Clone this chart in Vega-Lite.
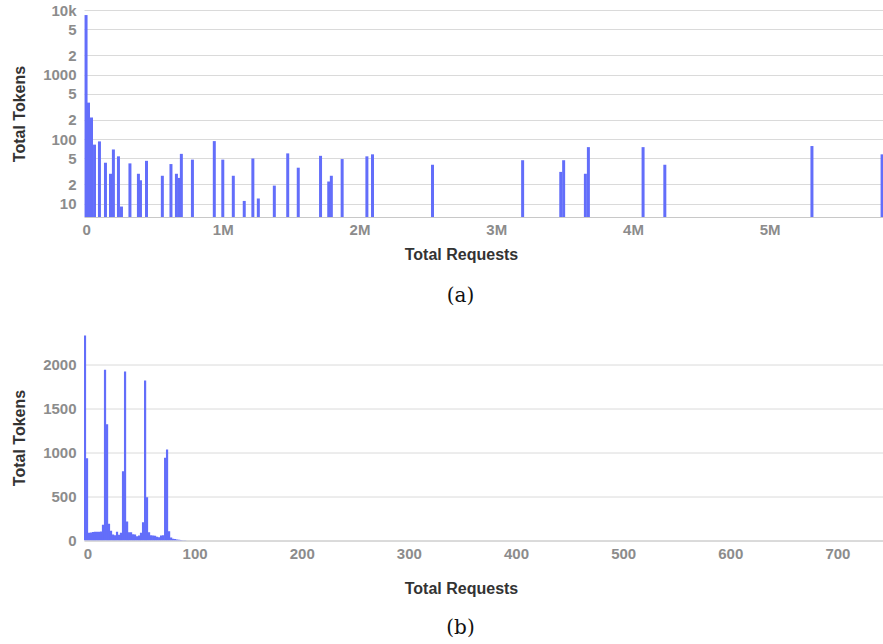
{
  "$schema": "https://vega.github.io/schema/vega-lite/v6.json",
  "padding": {"top": 3, "left": 11, "right": 0, "bottom": 0},
  "background": "white",
  "config": {
    "view": {"stroke": null},
    "font": "Liberation Sans",
    "axis": {
      "ticks": false,
      "tickSize": 0,
      "labelFont": "Liberation Sans",
      "labelFontSize": 15,
      "labelFontWeight": "bold",
      "labelColor": "#8c8c8c",
      "titleFont": "Liberation Sans",
      "titleFontSize": 16,
      "titleFontWeight": "bold",
      "titleColor": "#333333",
      "gridColor": "#dadada",
      "gridWidth": 1,
      "domainColor": "#c8c8c8",
      "labelFlush": false
    }
  },
  "spacing": 28.5,
  "vconcat": [
    {
      "width": 799,
      "height": 207,
      "title": {"text": "(a)", "orient": "bottom", "anchor": "middle", "frame": "group", "dx": -23, "offset": 23.5, "font": "DejaVu Serif", "fontSize": 20, "fontWeight": "normal", "color": "#111111"},
      "data": {"values": [
        {"requests": 0, "tokens": 8350},
        {"requests": 18000, "tokens": 367},
        {"requests": 40000, "tokens": 216},
        {"requests": 62000, "tokens": 82},
        {"requests": 98000, "tokens": 92},
        {"requests": 142000, "tokens": 43},
        {"requests": 179000, "tokens": 29},
        {"requests": 200000, "tokens": 69},
        {"requests": 237000, "tokens": 54},
        {"requests": 259000, "tokens": 9},
        {"requests": 321000, "tokens": 42},
        {"requests": 383000, "tokens": 29},
        {"requests": 398000, "tokens": 23},
        {"requests": 442000, "tokens": 46},
        {"requests": 558000, "tokens": 27},
        {"requests": 621000, "tokens": 41},
        {"requests": 661000, "tokens": 29},
        {"requests": 679000, "tokens": 25},
        {"requests": 697000, "tokens": 59},
        {"requests": 778000, "tokens": 48},
        {"requests": 938000, "tokens": 93},
        {"requests": 1000000, "tokens": 48},
        {"requests": 1077000, "tokens": 27},
        {"requests": 1157000, "tokens": 11},
        {"requests": 1220000, "tokens": 50},
        {"requests": 1260000, "tokens": 12},
        {"requests": 1377000, "tokens": 19},
        {"requests": 1475000, "tokens": 60},
        {"requests": 1552000, "tokens": 36},
        {"requests": 1715000, "tokens": 55},
        {"requests": 1775000, "tokens": 22},
        {"requests": 1794000, "tokens": 27},
        {"requests": 1873000, "tokens": 49},
        {"requests": 2054000, "tokens": 54},
        {"requests": 2095000, "tokens": 58},
        {"requests": 2534000, "tokens": 40},
        {"requests": 3193000, "tokens": 47},
        {"requests": 3472000, "tokens": 31},
        {"requests": 3493000, "tokens": 47},
        {"requests": 3652000, "tokens": 29},
        {"requests": 3674000, "tokens": 75},
        {"requests": 4074000, "tokens": 75},
        {"requests": 4233000, "tokens": 40},
        {"requests": 5309000, "tokens": 78},
        {"requests": 5822000, "tokens": 58}
      ]},
      "mark": {"type": "bar", "color": "#636efa", "size": 3, "clip": true},
      "encoding": {
        "x": {
          "field": "requests", "type": "quantitative",
          "scale": {"domain": [-15000, 5828700], "nice": false, "zero": false, "padding": 0},
          "axis": {"values": [0, 1000000, 2000000, 3000000, 4000000, 5000000], "format": "~s", "labelExpr": "datum.value == 0 ? '0' : datum.label", "grid": false, "domain": true, "labelPadding": 5, "title": "Total Requests", "titlePadding": 9, "titleX": 377}
        },
        "y": {
          "field": "tokens", "type": "quantitative",
          "scale": {"type": "log", "domain": [6.2, 10000], "nice": false},
          "axis": {
            "values": [10, 20, 50, 100, 200, 500, 1000, 2000, 5000, 10000],
            "format": "d",
            "labelExpr": "datum.value == 10000 ? '10k' : (datum.value == 20 || datum.value == 200 || datum.value == 2000) ? '2' : (datum.value == 50 || datum.value == 500 || datum.value == 5000) ? '5' : datum.label",
            "grid": true, "domain": false, "labelPadding": 8,
            "title": "Total Tokens", "titlePadding": 15
          }
        },
        "y2": {"datum": 6.2}
      }
    },
    {
      "width": 799,
      "height": 206,
      "title": {"text": "(b)", "orient": "bottom", "anchor": "middle", "frame": "group", "dx": -23, "offset": 21.5, "font": "DejaVu Serif", "fontSize": 20, "fontWeight": "normal", "color": "#111111"},
      "data": {"values": [
        {"requests": 0, "tokens": 2330},
        {"requests": 1.9, "tokens": 935},
        {"requests": 3.7, "tokens": 88},
        {"requests": 5.6, "tokens": 90},
        {"requests": 7.5, "tokens": 97},
        {"requests": 9.3, "tokens": 100},
        {"requests": 11.2, "tokens": 98},
        {"requests": 13.1, "tokens": 100},
        {"requests": 15.0, "tokens": 102},
        {"requests": 16.8, "tokens": 180},
        {"requests": 18.7, "tokens": 1940},
        {"requests": 20.6, "tokens": 1320},
        {"requests": 22.4, "tokens": 190},
        {"requests": 24.3, "tokens": 112},
        {"requests": 26.2, "tokens": 68},
        {"requests": 28.0, "tokens": 60},
        {"requests": 29.9, "tokens": 99},
        {"requests": 31.8, "tokens": 65},
        {"requests": 33.6, "tokens": 88},
        {"requests": 35.5, "tokens": 788},
        {"requests": 37.4, "tokens": 1920},
        {"requests": 39.3, "tokens": 215},
        {"requests": 41.1, "tokens": 93},
        {"requests": 43.0, "tokens": 95},
        {"requests": 44.9, "tokens": 72},
        {"requests": 46.7, "tokens": 68},
        {"requests": 48.6, "tokens": 48},
        {"requests": 50.5, "tokens": 58},
        {"requests": 52.3, "tokens": 88},
        {"requests": 54.2, "tokens": 208},
        {"requests": 56.1, "tokens": 1818},
        {"requests": 57.9, "tokens": 492},
        {"requests": 59.8, "tokens": 95},
        {"requests": 61.7, "tokens": 60},
        {"requests": 63.6, "tokens": 57},
        {"requests": 65.4, "tokens": 55},
        {"requests": 67.3, "tokens": 42},
        {"requests": 69.2, "tokens": 38},
        {"requests": 71.0, "tokens": 57},
        {"requests": 72.9, "tokens": 60},
        {"requests": 74.8, "tokens": 940},
        {"requests": 76.6, "tokens": 1034},
        {"requests": 78.5, "tokens": 104},
        {"requests": 80.4, "tokens": 34},
        {"requests": 82.2, "tokens": 19},
        {"requests": 84.1, "tokens": 17},
        {"requests": 86.0, "tokens": 11},
        {"requests": 87.9, "tokens": 8},
        {"requests": 89.7, "tokens": 7},
        {"requests": 91.6, "tokens": 4},
        {"requests": 93.5, "tokens": 2}
      ]},
      "mark": {"type": "bar", "color": "#636efa", "size": 2.2, "clip": true},
      "encoding": {
        "x": {
          "field": "requests", "type": "quantitative",
          "scale": {"domain": [-0.93, 744.9], "nice": false, "zero": false, "padding": 0},
          "axis": {"values": [0, 100, 200, 300, 400, 500, 600, 700], "grid": false, "domain": true, "labelPadding": 6, "labelOffset": 2.5, "title": "Total Requests", "titlePadding": 19, "titleX": 377}
        },
        "y": {
          "field": "tokens", "type": "quantitative",
          "scale": {"domain": [0, 2340], "nice": false},
          "axis": {"values": [0, 500, 1000, 1500, 2000], "format": "d", "grid": true, "domain": false, "labelPadding": 8, "title": "Total Tokens", "titlePadding": 15}
        }
      }
    }
  ]
}
